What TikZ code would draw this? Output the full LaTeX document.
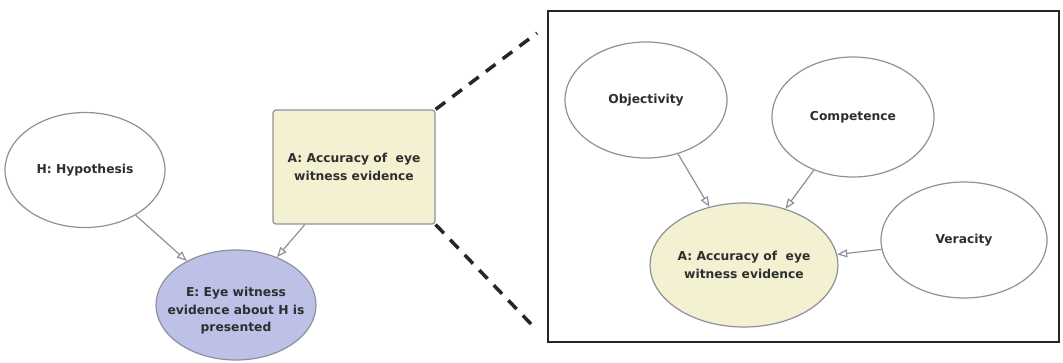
\documentclass[tikz,border=0pt]{standalone}
\usepackage{fontspec}
\setmainfont{DejaVu Sans}
\usetikzlibrary{shapes.geometric,arrows.meta}
\definecolor{edgegray}{HTML}{8E9199}
\definecolor{txt}{HTML}{2E2E2E}
\definecolor{paleyellow}{HTML}{F3F1D2}
\definecolor{lavender}{HTML}{BEC1E7}
\tikzset{
  lbl/.style={font=\fontsize{12.3}{17.5}\selectfont\bfseries, text=txt, align=center},
  oval/.style={ellipse, draw=edgegray, line width=1.2pt, fill=white, inner sep=0pt, lbl},
  link/.style={draw=edgegray, line width=1.2pt, -{Triangle[open,length=10pt,width=8pt]}},
  zoomline/.style={line width=3.5pt, dash pattern=on 12pt off 9pt, black!85},
}
\begin{document}
\begin{tikzpicture}[x=1pt,y=-1pt]
  \useasboundingbox[fill=white] (0,0) rectangle (1063,362);

  % main network
  \node[oval, minimum width=160pt, minimum height=115pt] (H) at (85,170) {H: Hypothesis};
  \node[draw=edgegray, line width=1.2pt, fill=paleyellow, rounded corners=3pt,
        minimum width=162pt, minimum height=114pt, inner sep=0pt, lbl] (A) at (354,167)
        {A: Accuracy of\ \ eye\\ witness evidence};
  \node[oval, fill=lavender, minimum width=160pt, minimum height=110pt] (E) at (236,305)
        {};
  \node[lbl] (Etext) at (236,311) {E: Eye witness\\evidence about H is\\presented};
  \draw[link] (H) -- (E);
  \draw[link] (A) -- (E);

  % zoomed detail of node A
  \node[draw=black!85, line width=2.8pt, minimum width=511pt, minimum height=331pt,
        inner sep=0pt] (box) at (803.5,176.5) {};
  \coordinate (zt) at (537,33);
  \coordinate (zb) at (531,324);
  \draw[zoomline] (A.north east) -- (zt);
  \draw[zoomline] (A.south east) -- (zb);

  \node[oval, minimum width=162pt, minimum height=116pt] (Obj) at (646,100) {Objectivity};
  \node[oval, minimum width=162pt, minimum height=120pt] (Comp) at (853,117) {Competence};
  \node[oval, minimum width=166pt, minimum height=116pt] (Ver) at (964,240) {Veracity};
  \node[oval, fill=paleyellow, minimum width=166pt, minimum height=124pt] (A2) at (744,265)
        {A: Accuracy of\ \ eye\\ witness evidence};
  \draw[link] (Obj) -- (A2);
  \draw[link] (Comp) -- (A2);
  \draw[link] (Ver) -- (A2);
\end{tikzpicture}
\end{document}
